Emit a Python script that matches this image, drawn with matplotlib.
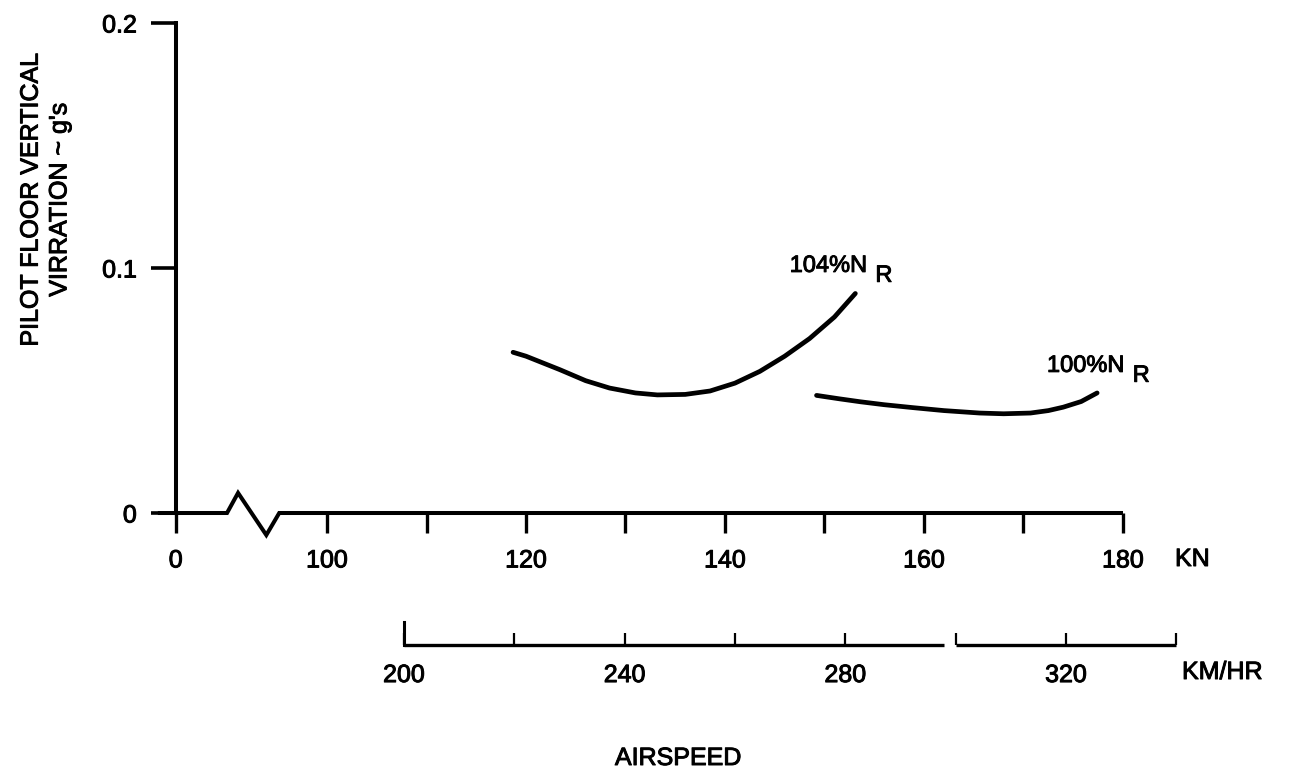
import matplotlib
matplotlib.use('Agg')
import matplotlib.pyplot as plt
import matplotlib.patheffects as pe

plt.rcParams['font.family'] = ['Liberation Sans', 'DejaVu Sans']

# ---------------- data ----------------
kn_104 = [118.7, 120.0, 123.4, 126.0, 128.4, 131.0, 133.2, 136.0, 138.5, 141.0, 143.5, 146.0, 148.5, 151.0, 153.1]
g_104 = [0.0656, 0.0640, 0.0585, 0.0540, 0.0510, 0.0490, 0.0482, 0.0484, 0.0498, 0.0530, 0.0578, 0.0640, 0.0712, 0.0800, 0.0896]

kn_100 = [149.2, 151.5, 153.6, 156.0, 158.9, 162.0, 165.6, 168.0, 170.7, 172.5, 174.0, 175.8, 177.4]
g_100 = [0.0480, 0.0466, 0.0454, 0.0442, 0.0430, 0.0418, 0.0408, 0.0405, 0.0408, 0.0418, 0.0432, 0.0455, 0.0490]

kn_ticks = [0, 100, 110, 120, 130, 140, 150, 160, 170, 180]
kn_labels = ['0', '100', '', '120', '', '140', '', '160', '', '180']
g_ticks = [0, 0.1, 0.2]
g_labels = ['0', '0.1', '0.2']
kmh_ticks = [200, 220, 240, 260, 280, 300, 320, 340]
kmh_labels = ['200', '', '240', '', '280', '', '320', '']
kmh_segments = [(200, 297.8), (300, 340)]

curve_labels = ['104%N', '100%N']
label_sub = 'R'

# ---------------- layout ----------------
W, H = 1290, 772
ZERO_POS = 84.8          # axis position where the "0" knot tick sits (axis break)
BREAK_X = [83.0, 89.95, 91.06, 93.9, 95.2, 180.0]
BREAK_Y = [0.0, 0.0, 0.0082, -0.0090, 0.0, 0.0]
BOLD = [pe.withStroke(linewidth=0.7, foreground='black')]


def kn_pos(k):
    return ZERO_POS if k == 0 else k


fig = plt.figure(figsize=(W / 100, H / 100), dpi=100)
fig.patch.set_facecolor('white')

ax = fig.add_axes([150 / W, 1 - 545 / H, 1050 / W, 535 / H])
ax.set_xlim(82.21, 187.74)
ax.set_ylim(-0.01306, 0.2053)
for s in ['top', 'right', 'bottom']:
    ax.spines[s].set_visible(False)
ax.spines['left'].set_position(('data', ZERO_POS))
ax.spines['left'].set_bounds(0, 0.2)
ax.spines['left'].set_linewidth(2.9)
ax.spines['bottom'].set_position(('data', 0))

# x axis line with break
ax.plot(BREAK_X, BREAK_Y, color='black', lw=2.9, solid_joinstyle='miter',
        solid_capstyle='butt', clip_on=False)

ax.set_xticks([kn_pos(k) for k in kn_ticks])
ax.set_xticklabels(kn_labels)
ax.set_yticks(g_ticks)
ax.set_yticklabels(g_labels)
ax.tick_params(axis='x', direction='out', length=14.5, width=2.4, pad=11,
               labelsize=18, colors='black')
ax.tick_params(axis='y', direction='out', length=18, width=2.6, pad=10,
               labelsize=18, colors='black')

# curves
ax.plot(kn_104, g_104, color='black', lw=3.4, solid_capstyle='round', solid_joinstyle='round')
ax.plot(kn_100, g_100, color='black', lw=3.4, solid_capstyle='round', solid_joinstyle='round')

t1 = ax.text(146.5, 0.0984, curve_labels[0], fontsize=17, va='baseline', ha='left')
s1 = ax.annotate(label_sub, xy=(1, 0), xycoords=t1, xytext=(6, -3.5),
                 textcoords='offset points', fontsize=17, va='baseline', ha='left')
t2 = ax.text(172.36, 0.0576, curve_labels[1], fontsize=17, va='baseline', ha='left')
s2 = ax.annotate(label_sub, xy=(1, 0), xycoords=t2, xytext=(6, -3.5),
                 textcoords='offset points', fontsize=17, va='baseline', ha='left')

# ---------------- km/hr scale ----------------
ax2 = fig.add_axes([150 / W, 1 - 645 / H, 1050 / W, 40 / H])
ax2.set_xlim(153.96, 344.28)
ax2.set_ylim(0, 1)
ax2.patch.set_visible(False)
for s in ax2.spines.values():
    s.set_visible(False)
for a, b in kmh_segments:
    ax2.plot([a, b], [0, 0], color='black', lw=2.4, solid_capstyle='butt', clip_on=False)
ax2.plot([kmh_ticks[0], kmh_ticks[0]], [0, 23 / 40], color='black', lw=2.2, clip_on=False)
ax2.set_xticks(kmh_ticks)
ax2.set_xticklabels(kmh_labels)
ax2.set_yticks([])
ax2.tick_params(axis='x', direction='in', length=8.5, width=1.6, pad=13,
                labelsize=18, colors='black')

# ---------------- texts ----------------
texts = [t1, t2, s1, s2]
texts.append(fig.text(1175 / W, 1 - 559 / H, 'KN', fontsize=18, ha='left', va='center'))
texts.append(fig.text(1182 / W, 1 - 672 / H, 'KM/HR', fontsize=18, ha='left', va='center'))
texts.append(fig.text(678 / W, 1 - 758 / H, 'AIRSPEED', fontsize=18, ha='center', va='center'))
texts.append(fig.text(45 / W, 1 - 200 / H, "PILOT FLOOR VERTICAL\nVIRRATION ~ g's", fontsize=18,
                      ha='center', va='center', rotation=90, linespacing=1.25,
                      multialignment='center'))
texts += ax.get_xticklabels() + ax.get_yticklabels() + ax2.get_xticklabels()
for t in texts:
    t.set_path_effects(BOLD)

fig.savefig('out.png', dpi=100, facecolor='white')
